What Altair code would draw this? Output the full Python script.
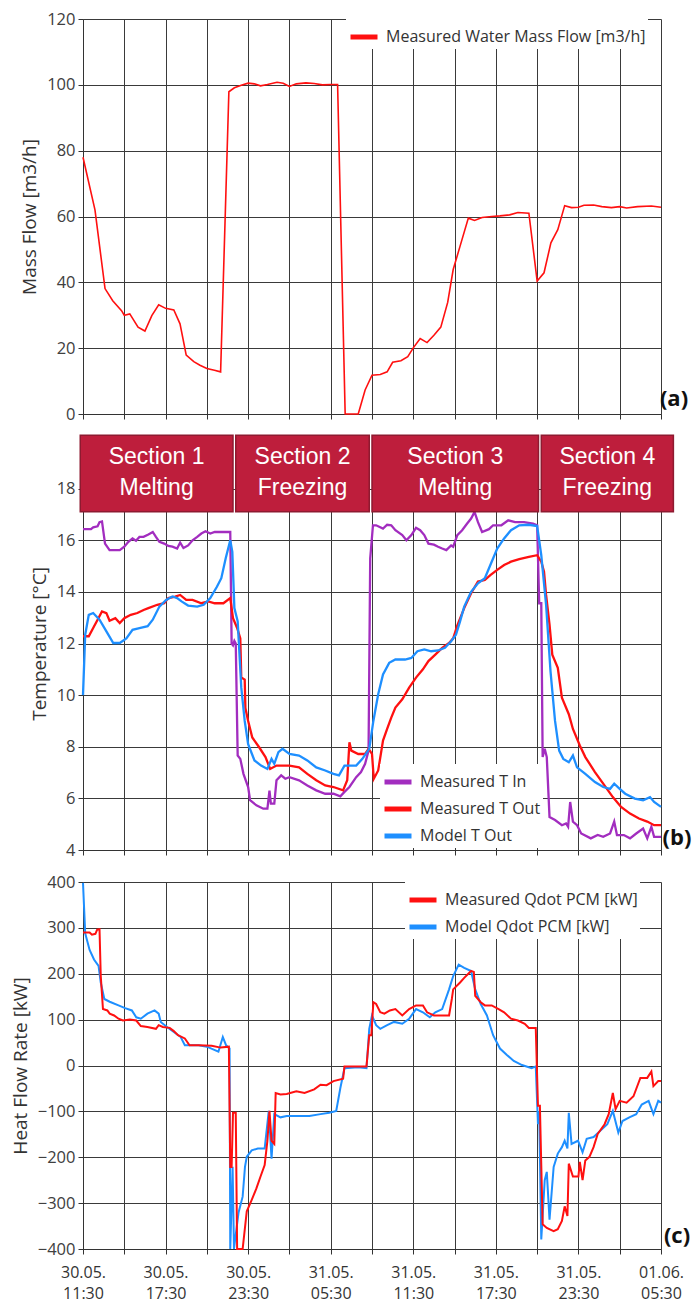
import altair as alt
import pandas as pd

# ---------------- data (hours after 30.05. 11:30) ----------------
x_ticks = list(range(0, 43, 3))
x_labels = ["30.05.|11:30", "30.05.|17:30", "30.05.|23:30", "31.05.|05:30",
            "31.05.|11:30", "31.05.|17:30", "31.05.|23:30", "01.06.|05:30"]

mass_flow = [(0, 78), (0.87, 62), (1.6, 38.1), (2.16, 34.4), (2.8, 31.4), (3.0, 30), (3.4, 30.4),
             (4.0, 26.4), (4.5, 25.2), (5.0, 29.9), (5.5, 33.2), (6.0, 32.1), (6.6, 31.6), (7.05, 27.4),
             (7.5, 17.9), (8.05, 15.9), (8.5, 14.8), (9.0, 13.8), (9.55, 13.3), (10.0, 12.8), (10.6, 97.9),
             (11.0, 99.1), (11.5, 99.9), (12.0, 100.5), (12.45, 100.3), (12.9, 99.7), (13.4, 100.1),
             (14.1, 100.8), (14.55, 100.5), (15.0, 99.5), (15.5, 100.3), (16.2, 100.6), (16.8, 100.4),
             (17.4, 100), (18.0, 100.1), (18.5, 100.1), (19.05, 0), (20.0, 0), (20.5, 7.3), (21.0, 11.8),
             (21.6, 12), (22.1, 12.8), (22.5, 15.7), (23.1, 16.2), (23.6, 17.4), (24.0, 20.1), (24.5, 22.9),
             (25.0, 21.7), (25.5, 23.9), (26.0, 26.4), (26.5, 33.9), (26.9, 43.9), (27.4, 51), (28.0, 59.5),
             (28.45, 58.8), (29.0, 59.7), (29.7, 60), (30.3, 60.2), (31.0, 60.5), (31.6, 61.2), (32.4, 61),
             (33.0, 40.4), (33.5, 42.9), (34.0, 52), (34.5, 56), (35.0, 63.3), (35.5, 62.7), (36.0, 62.8),
             (36.4, 63.4), (37.1, 63.5), (37.7, 63), (38.4, 62.7), (39.0, 63), (39.5, 62.6), (40.3, 63),
             (41.3, 63.2), (42, 62.8)]

t_in = [(0, 16.43), (0.58, 16.43), (0.74, 16.5), (1.06, 16.54), (1.2, 16.7), (1.38, 16.73), (1.6, 15.87),
        (1.93, 15.62), (2.67, 15.62), (3.0, 15.75), (3.3, 15.94), (3.6, 16.07), (3.85, 15.98), (4.1, 16.13),
        (4.4, 16.13), (4.75, 16.22), (5.07, 16.32), (5.3, 16.13), (5.55, 15.94), (5.9, 15.87), (6.2, 15.78),
        (6.5, 15.75), (6.84, 15.68), (7.06, 15.91), (7.3, 15.7), (7.64, 15.8), (7.96, 16.0), (8.3, 16.13),
        (8.6, 16.26), (8.9, 16.35), (9.25, 16.26), (9.57, 16.32), (10.7, 16.32), (10.8, 12.0), (10.9, 11.93),
        (11.0, 12.1), (11.1, 12.0), (11.24, 7.66), (11.43, 7.53), (11.66, 6.95), (12.0, 6.44), (12.14, 5.93),
        (12.6, 5.73), (13.1, 5.6), (13.4, 5.6), (13.55, 6.3), (13.65, 5.8), (13.9, 5.8), (14.06, 6.7),
        (14.4, 6.89), (14.7, 6.76), (15.0, 6.82), (15.7, 6.7), (16.3, 6.5), (16.95, 6.31), (17.6, 6.18),
        (18.2, 6.18), (18.7, 6.08), (19.0, 6.25), (19.36, 6.44), (19.85, 6.82), (20.2, 7.02), (20.5, 7.34),
        (20.75, 7.85), (20.87, 15.3), (21.07, 16.58), (21.3, 16.58), (21.8, 16.45), (22.1, 16.6),
        (22.4, 16.58), (22.7, 16.39), (23.2, 16.2), (23.5, 16.0), (23.86, 16.2), (24.2, 16.48), (24.5, 16.39),
        (24.8, 16.2), (25.1, 15.87), (25.5, 15.83), (25.8, 15.75), (26.1, 15.68), (26.4, 15.62), (26.75, 15.8),
        (26.9, 15.75), (27.2, 16.2), (27.55, 16.39), (27.9, 16.64), (28.2, 16.84), (28.45, 17.1), (28.7, 16.7),
        (29.0, 16.32), (29.5, 16.43), (29.8, 16.58), (30.4, 16.58), (30.9, 16.77), (31.4, 16.7), (32.05, 16.7),
        (32.7, 16.64), (33.0, 16.58), (33.15, 13.56), (33.3, 13.56), (33.4, 7.6), (33.55, 7.92), (33.7, 7.6),
        (33.9, 5.28), (34.3, 5.16), (34.8, 4.96), (35.1, 5.03), (35.25, 4.9), (35.4, 5.86), (35.6, 5.1),
        (35.9, 4.96), (36.2, 4.64), (36.9, 4.45), (37.4, 4.58), (37.8, 4.51), (38.3, 4.64), (38.6, 5.1),
        (38.8, 4.58), (39.3, 4.58), (39.75, 4.45), (40.2, 4.64), (40.7, 4.83), (41.0, 4.45), (41.3, 4.9),
        (41.5, 4.51), (42, 4.51)]

t_out = [(0, 12.28), (0.42, 12.28), (0.74, 12.6), (1.06, 12.92), (1.38, 13.24), (1.7, 13.18), (1.93, 12.88),
         (2.35, 12.98), (2.67, 12.79), (3.0, 12.98), (3.47, 13.11), (3.95, 13.18), (4.4, 13.3), (4.75, 13.37),
         (5.4, 13.5), (5.9, 13.56), (6.2, 13.76), (6.7, 13.82), (7.06, 13.88), (7.5, 13.69), (7.96, 13.69),
         (8.6, 13.56), (9.1, 13.63), (9.57, 13.56), (10.2, 13.56), (10.7, 13.76), (10.9, 12.98), (11.2, 12.6),
         (11.43, 12.2), (11.5, 10.68), (11.75, 10.6), (11.8, 9.5), (12.0, 9.0), (12.3, 8.36), (12.8, 7.98),
         (13.26, 7.6), (13.6, 7.14), (14.06, 7.27), (15.0, 7.27), (15.7, 7.2), (16.3, 6.95), (16.95, 6.7),
         (17.6, 6.5), (18.2, 6.44), (18.9, 6.31), (19.2, 6.7), (19.36, 8.17), (19.5, 7.85), (20.0, 7.72),
         (20.5, 7.72), (20.75, 7.92), (21.0, 7.72), (21.13, 6.76), (21.45, 7.08), (21.8, 8.24), (22.1, 8.69),
         (22.4, 9.13), (22.7, 9.52), (23.2, 9.84), (23.7, 10.29), (24.2, 10.68), (24.7, 11.0), (25.1, 11.32),
         (25.6, 11.57), (26.1, 11.83), (26.6, 12.02), (26.9, 12.2), (27.2, 12.7), (27.7, 13.37), (28.2, 13.95),
         (28.7, 14.4), (29.2, 14.46), (29.6, 14.65), (30.1, 14.85), (30.6, 15.04), (31.1, 15.17), (31.7, 15.27),
         (32.4, 15.36), (33.0, 15.42), (33.3, 15.17), (33.5, 14.78), (33.65, 13.88), (33.9, 12.73),
         (34.1, 11.57), (34.5, 11.06), (34.8, 9.9), (35.3, 9.26), (35.6, 8.69), (36.1, 8.05), (36.5, 7.6),
         (37.2, 7.02), (37.8, 6.57), (38.5, 6.05), (39.1, 5.67), (39.75, 5.41), (40.4, 5.22), (41.0, 5.1),
         (41.5, 4.96), (42, 4.96)]

t_model = [(0, 10.0), (0.16, 12.34), (0.42, 13.11), (0.74, 13.18), (1.2, 12.92), (1.7, 12.47), (2.2, 12.02),
           (2.67, 12.02), (3.15, 12.2), (3.6, 12.53), (4.1, 12.6), (4.7, 12.67), (5.07, 12.92), (5.55, 13.43),
           (6.04, 13.69), (6.5, 13.82), (6.84, 13.76), (7.16, 13.63), (7.64, 13.47), (8.3, 13.43), (8.77, 13.5),
           (9.25, 13.76), (9.73, 14.2), (10.05, 14.53), (10.37, 15.3), (10.7, 16.0), (10.85, 15.55),
           (11.0, 13.37), (11.24, 12.86), (11.5, 10.3), (11.75, 9.0), (12.0, 8.1), (12.46, 7.47), (12.94, 7.27),
           (13.4, 7.14), (13.7, 7.53), (13.9, 7.34), (14.2, 7.79), (14.5, 7.92), (15.0, 7.72), (15.7, 7.66),
           (16.3, 7.47), (16.95, 7.2), (17.6, 7.08), (18.2, 6.95), (18.6, 6.89), (19.0, 7.27), (19.85, 7.27),
           (20.3, 7.53), (20.8, 7.92), (21.1, 9.0), (21.45, 10.03), (21.8, 10.8), (22.25, 11.25), (22.7, 11.38),
           (23.4, 11.38), (23.86, 11.44), (24.3, 11.7), (24.8, 11.77), (25.3, 11.7), (25.8, 11.73),
           (26.3, 11.83), (26.75, 12.09), (27.1, 12.34), (27.4, 12.86), (27.7, 13.43), (28.2, 14.0),
           (28.7, 14.33), (29.2, 14.53), (29.6, 15.04), (30.1, 15.68), (30.6, 16.07), (31.1, 16.39),
           (31.7, 16.58), (32.4, 16.6), (33.0, 16.55), (33.3, 15.42), (33.65, 13.5), (33.97, 10.93), (34.3, 9.0),
           (34.6, 7.85), (34.9, 7.53), (35.3, 7.4), (35.6, 7.66), (35.9, 7.2), (36.5, 6.95), (37.2, 6.63),
           (37.8, 6.44), (38.3, 6.37), (38.6, 6.57), (39.0, 6.37), (39.4, 6.18), (40.1, 5.99), (40.7, 5.93),
           (41.2, 6.05), (41.5, 5.86), (42, 5.67)]

q_meas = [(0, 290), (0.48, 290), (0.65, 285), (0.9, 287), (1.03, 296), (1.2, 297), (1.29, 195), (1.45, 123),
          (1.77, 120), (1.94, 113), (2.26, 109), (2.58, 102), (2.9, 98), (3.4, 100), (3.87, 98), (4.2, 86),
          (4.68, 84), (5.3, 80), (5.5, 88), (5.8, 84), (6.3, 82), (6.6, 75), (6.9, 66), (7.4, 59), (7.74, 44),
          (8.4, 44), (9.35, 43), (10.0, 39), (10.6, 41), (10.7, -221), (10.8, -221), (10.9, -103), (11.1, -103),
          (11.2, -400), (11.6, -400), (11.9, -318), (12.26, -293), (12.6, -268), (12.9, -242), (13.2, -217),
          (13.4, -164), (13.55, -99), (13.7, -164), (13.9, -171), (14.0, -60), (14.35, -63), (14.8, -62),
          (15.5, -56), (16.1, -60), (16.8, -52), (17.26, -42), (17.7, -43), (18.2, -34), (18.9, -29), (19.0, -2),
          (20.0, -2), (20.6, -2), (20.8, 66), (20.95, 66), (21.1, 138), (21.3, 134), (21.6, 116), (21.9, 113),
          (22.3, 120), (22.7, 123), (23.2, 109), (23.7, 123), (24.2, 131), (24.7, 131), (25.0, 116), (25.5, 109),
          (26.1, 109), (26.6, 109), (26.8, 145), (26.9, 166), (27.4, 181), (27.7, 191), (28.2, 206), (28.4, 204),
          (28.5, 152), (28.9, 138), (29.2, 131), (29.7, 131), (30.2, 123), (30.6, 116), (31.1, 102), (31.6, 98),
          (32.1, 91), (32.4, 82), (32.9, 82), (33.06, -88), (33.2, -88), (33.4, -346), (33.7, -354),
          (34.2, -361), (34.5, -357), (34.8, -339), (35.0, -307), (35.2, -328), (35.3, -214), (35.6, -242),
          (36.0, -242), (36.1, -210), (36.3, -250), (36.5, -207), (36.8, -199), (37.1, -178), (37.4, -149),
          (37.9, -128), (38.2, -106), (38.5, -60), (38.7, -95), (39.0, -77), (39.5, -81), (40.0, -67),
          (40.5, -27), (41.0, -27), (41.3, -13), (41.45, -45), (41.8, -34), (42, -34)]

q_model = [(0, 398), (0.16, 288), (0.48, 252), (0.8, 231), (1.13, 217), (1.29, 181), (1.55, 145), (1.94, 139),
           (2.58, 131), (3.06, 125), (3.55, 120), (3.87, 105), (4.2, 102), (4.68, 113), (5.2, 120), (5.5, 113),
           (5.65, 95), (6.1, 84), (6.6, 73), (7.1, 62), (7.4, 44), (8.4, 44), (9.0, 41), (9.84, 30), (10.16, 62),
           (10.4, 44), (10.65, 37), (10.7, -400), (10.87, -221), (10.97, -400), (11.3, -321), (11.6, -286),
           (11.77, -221), (11.9, -199), (12.26, -185), (12.7, -181), (13.2, -181), (13.5, -99), (13.7, -203),
           (13.9, -106), (14.35, -113), (14.8, -110), (15.5, -110), (16.45, -110), (17.26, -106), (17.9, -103),
           (18.4, -99), (18.7, -49), (19.0, -6), (20.0, -4), (20.6, -6), (20.8, 80), (21.0, 109), (21.3, 88),
           (21.6, 80), (22.1, 88), (22.6, 95), (23.2, 91), (23.7, 102), (24.2, 123), (24.7, 116), (25.2, 105),
           (25.6, 116), (26.1, 123), (26.6, 166), (26.9, 195), (27.3, 220), (27.7, 213), (28.2, 206),
           (28.5, 166), (28.9, 134), (29.35, 109), (29.8, 66), (30.3, 37), (30.8, 23), (31.3, 10), (31.9, 1),
           (32.6, -6), (32.9, -2), (33.06, -128), (33.15, -100), (33.3, -379), (33.55, -250), (33.7, -232),
           (33.9, -336), (34.2, -221), (34.5, -192), (34.8, -178), (35.0, -164), (35.2, -181), (35.3, -103),
           (35.5, -171), (35.97, -164), (36.3, -189), (36.6, -160), (37.1, -156), (37.6, -142), (38.1, -128),
           (38.5, -99), (38.9, -146), (39.2, -121), (39.7, -113), (40.2, -106), (40.6, -85), (41.1, -77),
           (41.45, -106), (41.8, -77), (42, -81)]

# section spans (hours)
section_line1 = ["Section 1", "Section 2", "Section 3", "Section 4"]
section_line2 = ["Melting", "Freezing", "Melting", "Freezing"]
section_start = [-0.2, 11.1, 21.0, 33.3]
section_end = [10.9, 20.8, 33.1, 42.9]
panel_tags = ["(a)", "(b)", "(c)"]

# ---------------- styling ----------------
FONT = "Open Sans"
RED = "#FF1010"
BLUE = "#1E8FFF"
PURPLE = "#A22DBF"
W = 578


def frame(points, name):
    d = pd.DataFrame(points, columns=["h", "v"])
    d["s"] = name
    return d


lab_arr = "[" + ",".join("'" + s + "'" for s in x_labels) + "]"
x_scale = alt.Scale(domain=[0, 42], nice=False, zero=False)
x_axis_plain = alt.Axis(values=x_ticks, title=None, grid=True, labels=False, tickSize=5)
x_axis_lab = alt.Axis(values=x_ticks, title=None, grid=True, tickSize=5, labelFlush=False,
                      labelOverlap=False, labelPadding=10, labelLineHeight=21, labelFontSize=16,
                      labelColor="#333",
                      labelExpr=f"datum.value % 6 == 0 ? split({lab_arr}[datum.value / 6], '|') : ''")


def tag(text, x, y):
    return alt.Chart(pd.DataFrame({"t": [text]})).mark_text(
        font=FONT, fontSize=22, fontWeight="bold", color="#111", align="center", baseline="middle"
    ).encode(text="t:N", x=alt.value(x), y=alt.value(y))


# ---------------- panel (a) ----------------
name_a = "Measured Water Mass Flow [m3/h]"
df_a = frame(mass_flow, name_a)
line_a = alt.Chart(df_a).mark_line(strokeWidth=1.6).encode(
    x=alt.X("h:Q", scale=x_scale, axis=x_axis_plain),
    y=alt.Y("v:Q", scale=alt.Scale(domain=[0, 120], nice=False),
            axis=alt.Axis(values=list(range(0, 121, 20)), title="Mass Flow [m3/h]")),
    color=alt.Color("s:N", scale=alt.Scale(domain=[name_a], range=[RED]),
                    legend=alt.Legend(title=None, orient="none", legendX=263, legendY=0)),
)
panel_a = alt.layer(line_a, tag(panel_tags[0], 591, 380)).properties(width=W, height=395)

# ---------------- panel (b) ----------------
names_b = ["Measured T In", "Measured T Out", "Model T Out"]
df_b = pd.concat([frame(t_in, names_b[0]), frame(t_out, names_b[1]), frame(t_model, names_b[2])])
y_scale_b = alt.Scale(domain=[4, 20], nice=False, zero=False)
y_axis_b = alt.Axis(values=list(range(4, 19, 2)), title="Temperature [°C]")
line_b = alt.Chart(df_b).mark_line(strokeWidth=2.3).encode(
    x=alt.X("h:Q", scale=x_scale, axis=x_axis_plain),
    y=alt.Y("v:Q", scale=y_scale_b, axis=y_axis_b),
    color=alt.Color("s:N", sort=names_b, scale=alt.Scale(domain=names_b, range=[PURPLE, RED, BLUE]),
                    legend=alt.Legend(title=None, orient="none", legendX=297, legendY=327)),
)
df_sec = pd.DataFrame({"l1": section_line1, "l2": section_line2, "x0": section_start, "x1": section_end})
df_sec["xm"] = (df_sec["x0"] + df_sec["x1"]) / 2
df_sec["y0"] = 17.1
df_sec["y1"] = 20.07
df_sec["yl1"] = 19.23
df_sec["yl2"] = 18.03
boxes = alt.Chart(df_sec).mark_rect(fill="#BE1E3C", stroke="#8E1A30", strokeWidth=1.5).encode(
    x=alt.X("x0:Q", scale=x_scale, axis=x_axis_plain), x2="x1:Q",
    y=alt.Y("y0:Q", scale=y_scale_b, axis=y_axis_b), y2="y1:Q",
)
txt_style = dict(font="Liberation Sans", fontSize=23, color="white", align="center", baseline="middle")
box_txt1 = alt.Chart(df_sec).mark_text(**txt_style).encode(
    x=alt.X("xm:Q", scale=x_scale, axis=x_axis_plain),
    y=alt.Y("yl1:Q", scale=y_scale_b, axis=y_axis_b),
    text="l1:N",
)
box_txt2 = alt.Chart(df_sec).mark_text(**txt_style).encode(
    x=alt.X("xm:Q", scale=x_scale, axis=x_axis_plain),
    y=alt.Y("yl2:Q", scale=y_scale_b, axis=y_axis_b),
    text="l2:N",
)
panel_b = alt.layer(line_b, boxes, box_txt1, box_txt2, tag(panel_tags[1], 594, 401)).properties(
    width=W, height=413)

# ---------------- panel (c) ----------------
names_c = ["Measured Qdot PCM [kW]", "Model Qdot PCM [kW]"]
df_c = pd.concat([frame(q_model, names_c[1]), frame(q_meas, names_c[0])])
line_c = alt.Chart(df_c).mark_line(strokeWidth=2).encode(
    x=alt.X("h:Q", scale=x_scale, axis=x_axis_lab),
    y=alt.Y("v:Q", scale=alt.Scale(domain=[-400, 400], nice=False),
            axis=alt.Axis(values=list(range(-400, 401, 100)), title="Heat Flow Rate [kW]")),
    color=alt.Color("s:N", sort=names_c, scale=alt.Scale(domain=names_c, range=[RED, BLUE]),
                    legend=alt.Legend(title=None, orient="none", legendX=322, legendY=0)),
)
panel_c = alt.layer(line_c, tag(panel_tags[2], 594, 354)).properties(width=W, height=367)

top = alt.vconcat(panel_a, panel_b, spacing=10).resolve_scale(
    color="independent", x="independent", y="independent")
chart = alt.vconcat(top, panel_c, spacing=14).resolve_scale(
    color="independent", x="independent", y="independent")
chart = chart.properties(padding={"left": 2, "top": 2, "right": 0, "bottom": 0}).configure_axis(
    labelFont=FONT, labelFontSize=16.5, labelColor="#404040", titleFont=FONT, titleFontSize=19,
    titleFontWeight="normal", titleColor="#333", titlePadding=7, domainColor="#333", tickColor="#333",
    gridColor="#3a3a3a", gridWidth=1, gridOpacity=1, labelPadding=3,
).configure_legend(
    labelFont=FONT, labelFontSize=16, labelColor="#333", symbolType="stroke", symbolStrokeWidth=5,
    symbolSize=729, fillColor="white", padding=2, rowPadding=1, labelOffset=6, labelLimit=400,
).configure_view(stroke="transparent")

chart.save("out.html", embed_options={"renderer": "svg", "actions": False})
